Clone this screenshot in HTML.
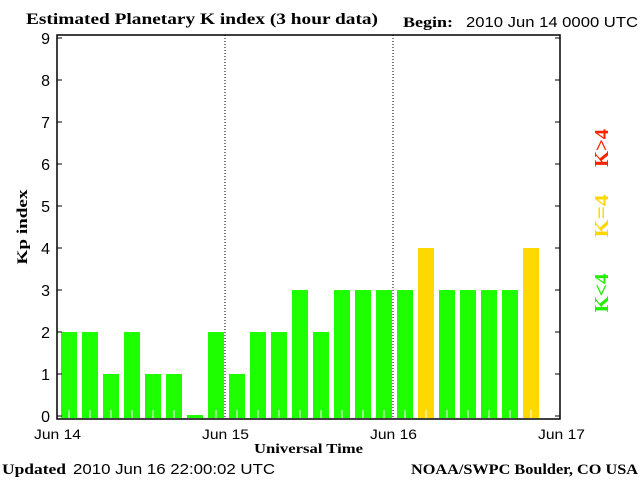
<!DOCTYPE html>
<html><head><meta charset="utf-8"><style>
body{margin:0;background:#fff;width:640px;height:480px;overflow:hidden}
svg text{font-family:"Liberation Sans",sans-serif}
.s{font-family:"Liberation Serif",serif;font-weight:bold}
</style></head><body>
<svg id="c" width="640" height="480">
<text class="s" x="26" y="24" font-size="16" textLength="352" lengthAdjust="spacingAndGlyphs">Estimated Planetary K index (3 hour data)</text>
<text class="s" x="403" y="27" font-size="15" textLength="50" lengthAdjust="spacingAndGlyphs">Begin:</text>
<text x="466" y="27" font-size="15" textLength="172" lengthAdjust="spacingAndGlyphs">2010 Jun 14 0000 UTC</text>
<text class="s" transform="translate(27,227) rotate(-90)" text-anchor="middle" font-size="15" textLength="75" lengthAdjust="spacingAndGlyphs">Kp index</text>
<text class="s" x="254" y="453" font-size="14" textLength="109" lengthAdjust="spacingAndGlyphs">Universal Time</text>
<text class="s" x="2" y="474" font-size="15" textLength="64" lengthAdjust="spacingAndGlyphs">Updated</text>
<text x="73" y="474" font-size="15" textLength="202" lengthAdjust="spacingAndGlyphs">2010 Jun 16 22:00:02 UTC</text>
<text class="s" x="411" y="474" font-size="15" textLength="227" lengthAdjust="spacingAndGlyphs">NOAA/SWPC Boulder, CO USA</text>
<g id="marks"></g>
<rect x="57" y="35" width="503" height="384" fill="none" stroke="#000" stroke-width="1.5"/>
<text transform="translate(608,148) rotate(-90)" text-anchor="middle" font-size="20" fill="#ff2200" textLength="38" lengthAdjust="spacingAndGlyphs" class="s">K&gt;4</text>
<text transform="translate(608,216) rotate(-90)" text-anchor="middle" font-size="20" fill="#ffd700" textLength="43" lengthAdjust="spacingAndGlyphs" class="s">K=4</text>
<text transform="translate(608,293) rotate(-90)" text-anchor="middle" font-size="20" fill="#22ee00" textLength="39" lengthAdjust="spacingAndGlyphs" class="s">K&lt;4</text>
</svg>
<script>
const kpValues=[2,2,1,2,1,1,0,2,1,2,2,3,2,3,3,3,3,4,3,3,3,3,4];
const dayLabels=["Jun 14","Jun 15","Jun 16","Jun 17"];
const yTicks=[0,1,2,3,4,5,6,7,8,9];
const NS="http://www.w3.org/2000/svg";
const g=document.getElementById('marks');
const x0=57,slot=21,base=418;
const xs=i=>x0+i*slot;
const ys=v=>416-42*v;
function mk(t,a){const e=document.createElementNS(NS,t);for(const k in a)e.setAttribute(k,a[k]);g.appendChild(e);return e;}
kpValues.forEach((v,i)=>{
 const top=v===0?base-3:ys(v);
 const col=v>4?'#ff2200':(v===4?'#ffd800':'#1eff00');
 const r=mk('rect',{x:xs(i)+4,y:top,width:16,height:base-top,fill:col});
 
 
 if(v>0){const t=mk('line',{x1:xs(i)+12,x2:xs(i)+12,y1:base-8,y2:base,stroke:'#fff'});
 
 }
});
yTicks.forEach(v=>{
 const y=ys(v);
 const l=mk('line',{x1:57,x2:62,y1:y,y2:y,stroke:'#000'});
 
 
 const r=mk('line',{x1:555,x2:560,y1:y,y2:y,stroke:'#000'});
 
 
 const t=mk('text',{x:50,y:y+6,'text-anchor':'end','font-size':'16'});
 t.textContent=v;
 
 
});
dayLabels.forEach((d,i)=>{
 const x=xs(i*8);
 const t=mk('text',{x:x-23,y:439,'font-size':'14',textLength:'47',lengthAdjust:'spacingAndGlyphs'});
 t.textContent=d;
 
 
 if(i>0&&i<3){const l=mk('line',{x1:x,x2:x,y1:35,y2:419,stroke:'#000','stroke-dasharray':'1,2'});
 
 }
});
</script>
</body></html>
